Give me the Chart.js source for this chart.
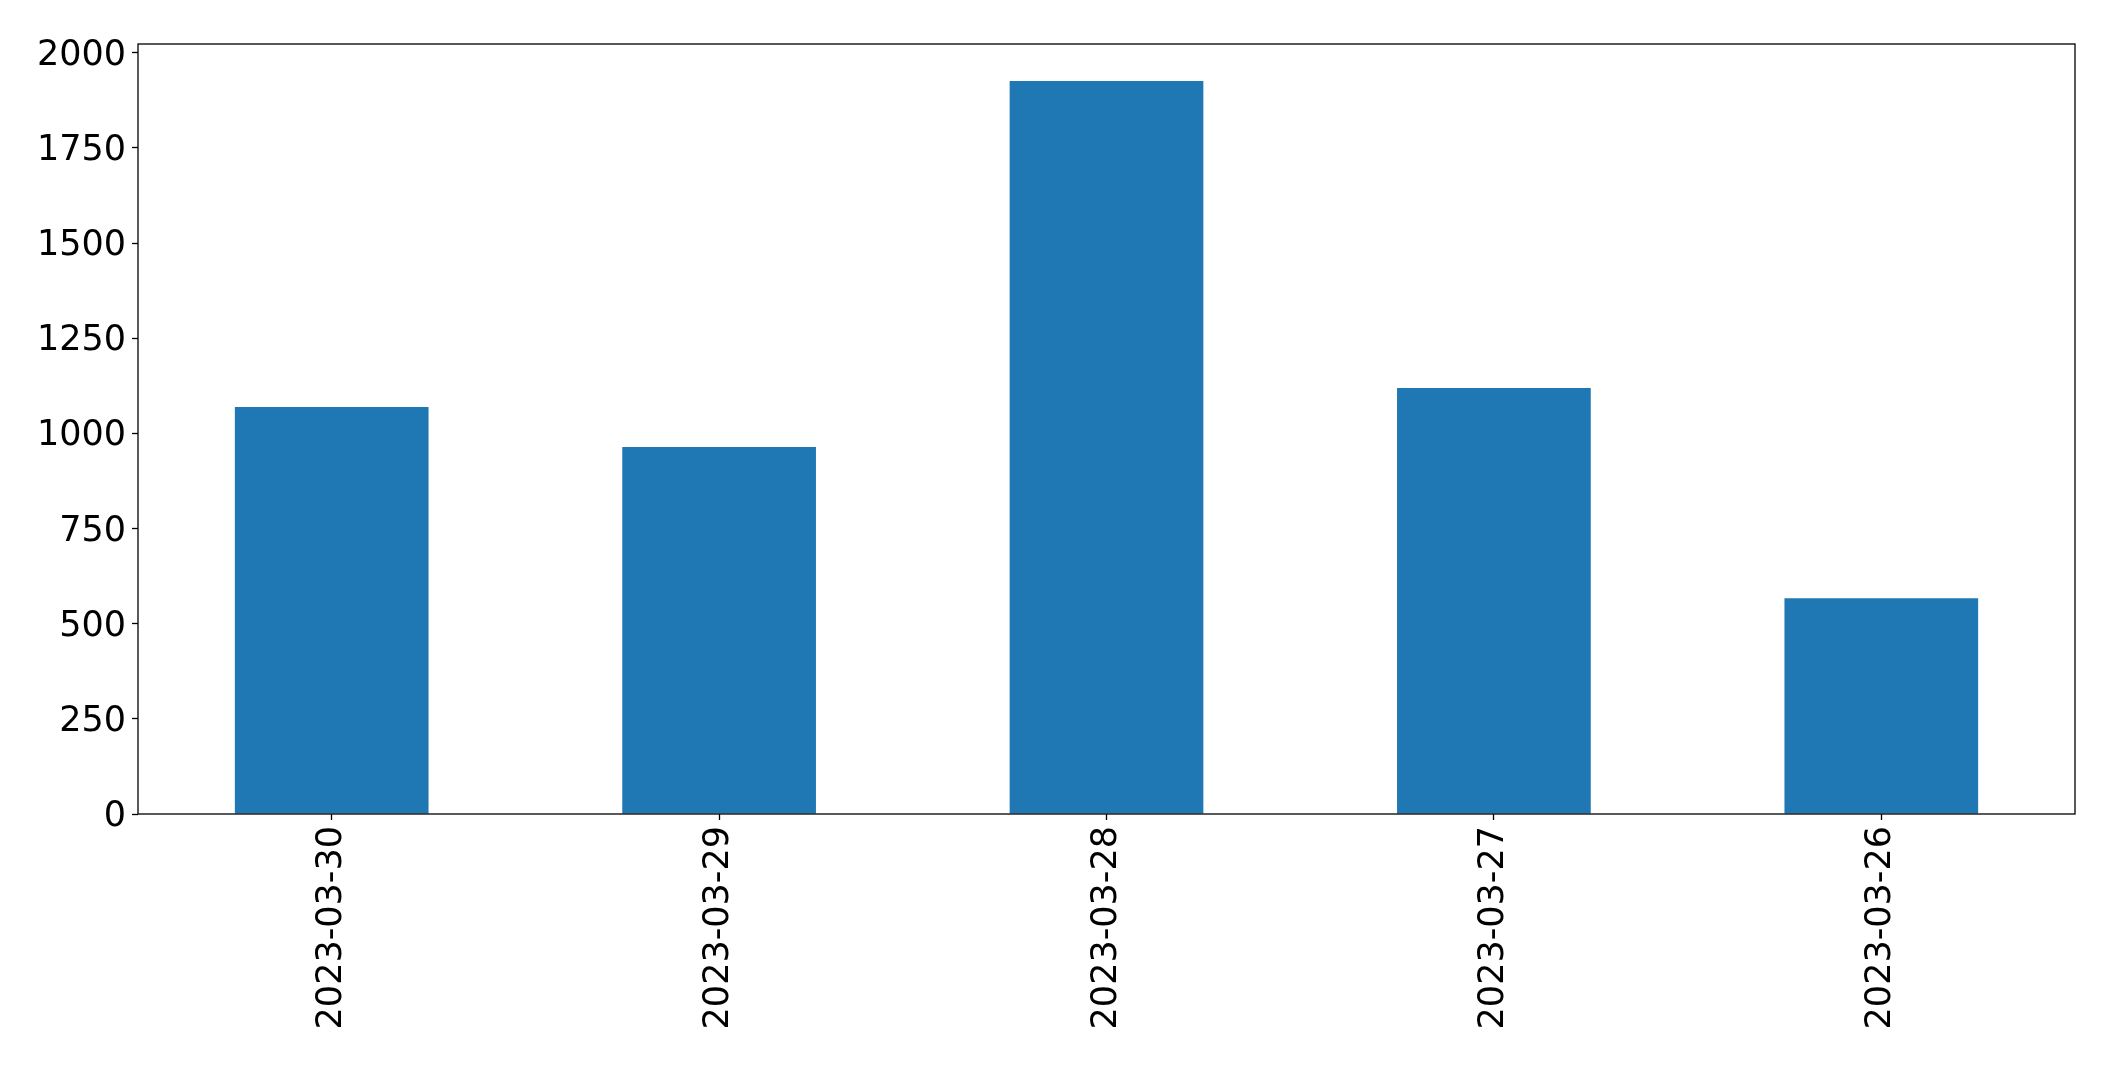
<!DOCTYPE html>
<html>
<head>
<meta charset="utf-8">
<script src="https://cdn.jsdelivr.net/npm/chart.js@4"></script>
<style>
  html, body { margin: 0; padding: 0; background: #fff; }
  #wrap { width: 2115px; height: 1066px; }
</style>
</head>
<body>
<div id="wrap"><canvas id="chart"></canvas></div>
<script>
// categories and counts
var dates = ['2023-03-30', '2023-03-29', '2023-03-28', '2023-03-27', '2023-03-26'];
var counts = [1069, 964, 1926, 1119, 567];
var yTicks = [0, 250, 500, 750, 1000, 1250, 1500, 1750, 2000];

// box round the plot area, like matplotlib's spines
var frame = {
  id: 'frame',
  afterDraw: function(chart) {
    var a = chart.chartArea, ctx = chart.ctx;
    ctx.save();
    ctx.strokeStyle = '#000';
    ctx.lineWidth = 1.3;
    ctx.strokeRect(a.left, a.top, a.right - a.left, a.bottom - a.top);
    ctx.restore();
  }
};

var font = { family: 'DejaVu Sans', size: 35 };

new Chart(document.getElementById('chart'), {
  type: 'bar',
  data: {
    labels: dates,
    datasets: [{
      data: counts,
      backgroundColor: '#1f77b4',
      borderWidth: 0,
      barPercentage: 0.5,
      categoryPercentage: 1.0
    }]
  },
  options: {
    responsive: true,
    maintainAspectRatio: false,
    animation: false,
    layout: { padding: { top: 44, right: 40, left: 0, bottom: 0 } },
    plugins: { legend: { display: false }, tooltip: { enabled: false } },
    scales: {
      x: {
        grid: { display: true, drawOnChartArea: false, offset: false, tickLength: 6, tickColor: '#000', tickWidth: 1.3 },
        border: { display: false },
        ticks: { color: '#000', font: font, minRotation: 90, maxRotation: 90, padding: 6 },
        afterFit: function(s) { s.height = 252; }
      },
      y: {
        min: 0,
        max: 2023,
        grid: { display: true, drawOnChartArea: false, tickLength: 6, tickColor: '#000', tickWidth: 1.3 },
        border: { display: false },
        ticks: {
          color: '#000', font: font, stepSize: 250, includeBounds: false, padding: 6, labelOffset: 3,
          callback: function(v) { return String(v); }
        },
        afterBuildTicks: function(s) { s.ticks = yTicks.map(function(v) { return { value: v }; }); },
        afterFit: function(s) { s.width = 138; }
      }
    }
  },
  plugins: [frame]
});
</script>
</body>
</html>
